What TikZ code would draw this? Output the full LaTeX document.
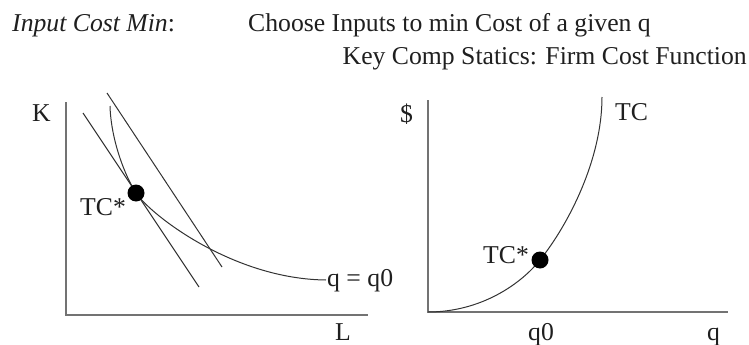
\documentclass[tikz,border=0pt]{standalone}
\usepackage{fontspec}
\setmainfont{Liberation Serif}
\begin{document}
\begin{tikzpicture}[x=1pt,y=-1pt,
  lbl/.style={inner sep=0pt, anchor=base west, font=\fontsize{25.7}{30}\selectfont, text=black!88},
  axisline/.style={draw=black!55, line width=1.3pt},
  curveline/.style={draw=black!80, line width=1pt},
  dotm/.style={circle, fill=black, inner sep=0pt, minimum size=17pt}]
\useasboundingbox (0,0) rectangle (749,345);
% titles
\node[lbl] (t1) at (12,32) {\textit{Input Cost Min}:};
\node[lbl] (t2) at (248,32) {Choose Inputs to min Cost of a given q};
\node[lbl, anchor=base east] (t3) at (747,65) {Key Comp Statics: Firm Cost Function};
% left panel axes
\coordinate (lo) at (66,315);
\coordinate (ltop) at (66,102);
\coordinate (lright) at (368,315);
\draw[axisline] (ltop) -- (lo) -- (lright);
\node[lbl] (K) at (32,121) {K};
\node[lbl] (L) at (335,340) {L};
% budget lines
\coordinate (b1s) at (83,113);
\coordinate (b1e) at (199,287);
\coordinate (b2s) at (107,93);
\coordinate (b2e) at (222,267);
\draw[curveline] (b1s) -- (b1e);
\draw[curveline] (b2s) -- (b2e);
% isoquant
\coordinate (iq0) at (110,106);
\coordinate (tL) at (136,193);
\coordinate (iqe) at (326,280);
\draw[curveline] (iq0) .. controls (111,140) and (125,176) .. (tL)
  .. controls (150,214) and (232,279) .. (iqe);
\node[lbl] (qlab) at (327,286) {q = q0};
\node[lbl] (tcL) at (80,215) {TC*};
\node[dotm] (dotL) at (tL) {};
% right panel axes
\coordinate (ro) at (428,312);
\coordinate (rtop) at (428,100);
\coordinate (rright) at (728,312);
\draw[axisline] (rtop) -- (ro) -- (rright);
\node[lbl] (dol) at (400,122) {\$};
\node[lbl] (q0) at (528,340) {q0};
\node[lbl] (qax) at (707,340) {q};
% TC curve
\coordinate (tR) at (540,260);
\coordinate (tctop) at (602,97);
\draw[curveline] (ro) .. controls (480,312) and (520,285) .. (tR)
  .. controls (568,225) and (602,160) .. (tctop);
\node[lbl] (tc) at (615,120) {TC};
\node[lbl] (tcR) at (483,263) {TC*};
\node[dotm] (dotR) at (tR) {};
\end{tikzpicture}
\end{document}
